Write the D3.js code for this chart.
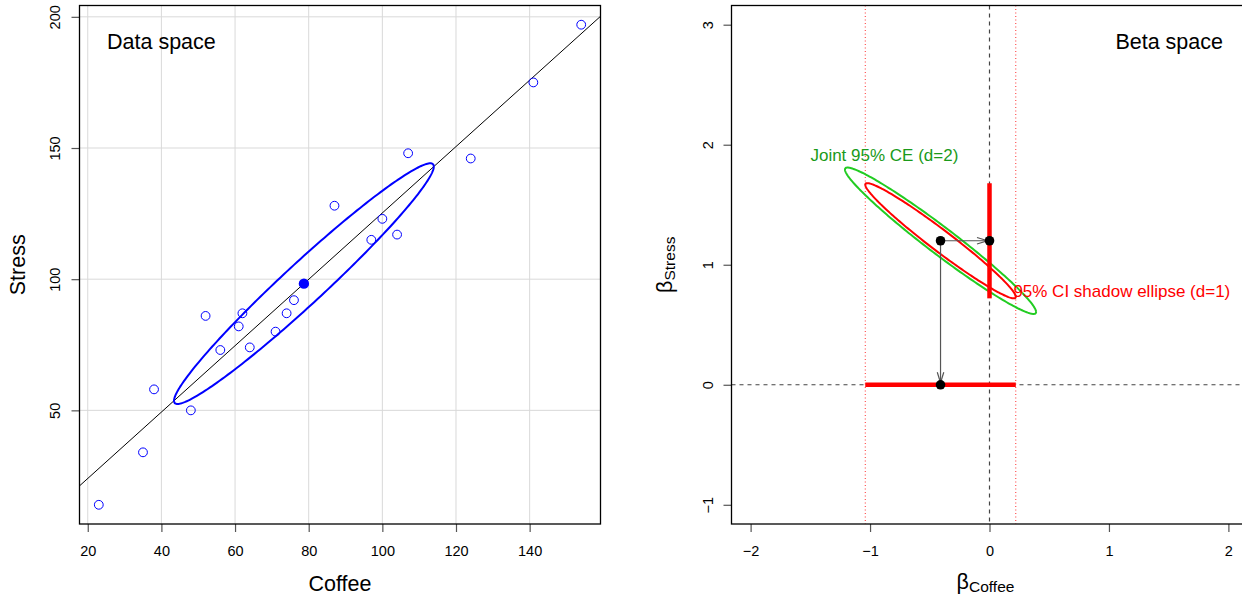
<!DOCTYPE html>
<html><head><meta charset="utf-8">
<script src="https://cdn.jsdelivr.net/npm/d3@7"></script>
<style>
body{margin:0;background:#fff}
svg{display:block;font-family:"Liberation Sans",Arial,Helvetica,sans-serif}
</style>
</head><body>
<svg id="c" width="1242" height="600"></svg>
<script>
// ---- data ----
const coffee = [154,141,124,107,87,100,97,104,76,74,62,52,61,71,64,56,38,48,35,23];
const stress = [197,175,146,148,128,123,115,117,92,87,87,86,82,80,74,73,58,50,34,14];
const dataXTicks = [20,40,60,80,100,120,140];
const dataYTicks = [50,100,150,200];

const betaNames = ["Coffee","Stress"];
const betaEst = [-0.41, 1.20];
const ciCoffee = [-1.04, 0.22];
const ciStress = [0.72, 1.68];
const jointScale = 1.27;          // joint (d=2) vs shadow (d=1) radius ratio
const betaXTicks = [-2,-1,0,1,2];
const betaYTicks = [-1,0,1,2,3];
const betaXLim = [-2,2];
const betaYLim = [-1,3];

// ---- derived statistics ----
const n = coffee.length;
const mx = d3.mean(coffee), my = d3.mean(stress);
const sx = d3.deviation(coffee), sy = d3.deviation(stress);
let sxy = 0;
for (let i = 0; i < n; i++) sxy += (coffee[i]-mx)*(stress[i]-my);
sxy /= (n-1);
const rXY = sxy/(sx*sy);
const slope = sxy/(sx*sx), intercept = my - slope*mx;

function pad(ext){ const d = (ext[1]-ext[0])*0.04; return [ext[0]-d, ext[1]+d]; }
function ellipsePts(cx, cy, ax, ay, rho, k){
  const pts = [], q = Math.sqrt(1-rho*rho);
  for (let i = 0; i <= 240; i++){
    const t = i/240*2*Math.PI;
    pts.push([cx + k*ax*Math.cos(t), cy + k*ay*(rho*Math.cos(t) + q*Math.sin(t))]);
  }
  return pts;
}

const svg = d3.select("#c");
const L = {x0:79.5, x1:600.5, y0:5.5, y1:524};
const R = {x0:731.5, x1:1247.5, y0:5.5, y1:524};
const TITLE = 21.5, TICK = 14.5, NOTE = 17;

const x1 = d3.scaleLinear().domain(pad(d3.extent(coffee))).range([L.x0, L.x1]);
const y1 = d3.scaleLinear().domain(pad(d3.extent(stress))).range([L.y1, L.y0]);
const xb = d3.scaleLinear().domain(pad(betaXLim)).range([R.x0, R.x1]);
const yb = d3.scaleLinear().domain(pad(betaYLim)).range([R.y1, R.y0]);

const defs = svg.append("defs");
defs.append("clipPath").attr("id","clipL").append("rect")
  .attr("x",L.x0).attr("y",L.y0).attr("width",L.x1-L.x0).attr("height",L.y1-L.y0);
defs.append("clipPath").attr("id","clipR").append("rect")
  .attr("x",R.x0).attr("y",R.y0).attr("width",R.x1-R.x0).attr("height",R.y1-R.y0);

// ================= LEFT PANEL: Data space =================
const gL = svg.append("g");
const pL = gL.append("g").attr("clip-path","url(#clipL)");
pL.selectAll("line.gx").data(dataXTicks).join("line")
  .attr("x1",d=>x1(d)).attr("x2",d=>x1(d)).attr("y1",L.y0).attr("y2",L.y1)
  .attr("stroke","#d9d9d9").attr("stroke-width",1);
pL.selectAll("line.gy").data(dataYTicks).join("line")
  .attr("y1",d=>y1(d)).attr("y2",d=>y1(d)).attr("x1",L.x0).attr("x2",L.x1)
  .attr("stroke","#d9d9d9").attr("stroke-width",1);
const xd = x1.domain();
pL.append("line")
  .attr("x1",x1(xd[0])).attr("y1",y1(intercept+slope*xd[0]))
  .attr("x2",x1(xd[1])).attr("y2",y1(intercept+slope*xd[1]))
  .attr("stroke","#000").attr("stroke-width",1);
const lineL = d3.line().x(d=>x1(d[0])).y(d=>y1(d[1]));
pL.append("path").attr("d", lineL(ellipsePts(mx,my,sx,sy,rXY,1)))
  .attr("fill","none").attr("stroke","#0000ff").attr("stroke-width",2);
pL.selectAll("circle.pt").data(coffee.map((c,i)=>[c,stress[i]])).join("circle")
  .attr("cx",d=>x1(d[0])).attr("cy",d=>y1(d[1])).attr("r",4.4)
  .attr("fill","none").attr("stroke","#0000ff").attr("stroke-width",1);
pL.append("circle").attr("cx",x1(mx)).attr("cy",y1(my)).attr("r",5.2).attr("fill","#0000ff");

const axBL = gL.append("g").attr("transform",`translate(0,${L.y1})`)
  .call(d3.axisBottom(x1).tickValues(dataXTicks).tickSize(8).tickFormat(d3.format("d")));
const axLL = gL.append("g").attr("transform",`translate(${L.x0},0)`)
  .call(d3.axisLeft(y1).tickValues(dataYTicks).tickSize(8).tickFormat(d3.format("d")));

gL.append("rect").attr("x",L.x0).attr("y",L.y0).attr("width",L.x1-L.x0).attr("height",L.y1-L.y0)
  .attr("fill","none").attr("stroke","#000").attr("stroke-width",1.3);

gL.append("text").attr("x",107).attr("y",49).attr("font-size",TITLE).text("Data space");
gL.append("text").attr("x",(L.x0+L.x1)/2).attr("y",591).attr("text-anchor","middle")
  .attr("font-size",TITLE).text("Coffee");
gL.append("text").attr("transform",`translate(25,${(L.y0+L.y1)/2}) rotate(-90)`)
  .attr("text-anchor","middle").attr("font-size",TITLE).text("Stress");

// ================= RIGHT PANEL: Beta space =================
const gR = svg.append("g");
const pR = gR.append("g").attr("clip-path","url(#clipR)");
pR.selectAll("line.ci").data(ciCoffee).join("line")
  .attr("x1",d=>xb(d)).attr("x2",d=>xb(d)).attr("y1",R.y0).attr("y2",R.y1)
  .attr("stroke","#ff3030").attr("stroke-width",1).attr("stroke-dasharray","1,2.5");
pR.append("line").attr("x1",xb(0)).attr("x2",xb(0)).attr("y1",R.y0).attr("y2",R.y1)
  .attr("stroke","#444").attr("stroke-width",1.2).attr("stroke-dasharray","4,4");
pR.append("line").attr("y1",yb(0)).attr("y2",yb(0)).attr("x1",R.x0).attr("x2",R.x1)
  .attr("stroke","#444").attr("stroke-width",1.2).attr("stroke-dasharray","4,4");

const axB = (ciCoffee[1]-ciCoffee[0])/2, ayB = (ciStress[1]-ciStress[0])/2;
const rhoB = -rXY;
const lineR = d3.line().x(d=>xb(d[0])).y(d=>yb(d[1]));
pR.append("path").attr("d", lineR(ellipsePts(betaEst[0],betaEst[1],axB,ayB,rhoB,jointScale)))
  .attr("fill","none").attr("stroke","#22cc22").attr("stroke-width",2);
pR.append("path").attr("d", lineR(ellipsePts(betaEst[0],betaEst[1],axB,ayB,rhoB,1)))
  .attr("fill","none").attr("stroke","#ff0000").attr("stroke-width",2);

pR.append("line").attr("x1",xb(ciCoffee[0])).attr("x2",xb(ciCoffee[1]))
  .attr("y1",yb(0)).attr("y2",yb(0)).attr("stroke","#ff0000").attr("stroke-width",4.5);
pR.append("line").attr("x1",xb(0)).attr("x2",xb(0))
  .attr("y1",yb(ciStress[0])).attr("y2",yb(ciStress[1])).attr("stroke","#ff0000").attr("stroke-width",4.5);

function arrow(xa,ya,xz,yz){
  const g = pR.append("g").attr("stroke","#555").attr("stroke-width",1.2).attr("fill","none");
  g.append("line").attr("x1",xa).attr("y1",ya).attr("x2",xz).attr("y2",yz);
  const ang = Math.atan2(yz-ya, xz-xa), len = 11, hw = 0.3;
  const p1 = [xz - len*Math.cos(ang-hw), yz - len*Math.sin(ang-hw)];
  const p2 = [xz - len*Math.cos(ang+hw), yz - len*Math.sin(ang+hw)];
  g.append("path").attr("d",`M${p1[0]},${p1[1]}L${xz},${yz}L${p2[0]},${p2[1]}`);
}
arrow(xb(betaEst[0]), yb(betaEst[1]), xb(0)-2, yb(betaEst[1]));
arrow(xb(betaEst[0]), yb(betaEst[1]), xb(betaEst[0]), yb(0)-2);

const dots = [[betaEst[0],betaEst[1]],[0,betaEst[1]],[betaEst[0],0]];
pR.selectAll("circle.d").data(dots).join("circle")
  .attr("cx",d=>xb(d[0])).attr("cy",d=>yb(d[1])).attr("r",4.8).attr("fill","#000");

pR.append("text").attr("x",xb(-0.88)).attr("y",yb(1.866)).attr("text-anchor","middle")
  .attr("font-size",NOTE).attr("fill","#1a9a1a").text("Joint 95% CE (d=2)");
pR.append("text").attr("x",xb(0.2)).attr("y",yb(0.73)).attr("text-anchor","start")
  .attr("font-size",NOTE).attr("fill","#ff0000").text("95% CI shadow ellipse (d=1)");

const axBR = gR.append("g").attr("transform",`translate(0,${R.y1})`)
  .call(d3.axisBottom(xb).tickValues(betaXTicks).tickSize(8).tickFormat(d3.format("d")));
const axLR = gR.append("g").attr("transform",`translate(${R.x0},0)`)
  .call(d3.axisLeft(yb).tickValues(betaYTicks).tickSize(8).tickFormat(d3.format("d")));

gR.append("rect").attr("x",R.x0).attr("y",R.y0).attr("width",R.x1-R.x0).attr("height",R.y1-R.y0)
  .attr("fill","none").attr("stroke","#000").attr("stroke-width",1.3);

gR.append("text").attr("x",1223).attr("y",49).attr("text-anchor","end").attr("font-size",TITLE).text("Beta space");

const tx = gR.append("text").attr("x",(R.x0+R.x1)/2 - 4).attr("y",589).attr("text-anchor","middle").attr("font-size",TITLE);
tx.append("tspan").text("β");
tx.append("tspan").attr("font-size",15.5).attr("dy",3).text(betaNames[0]);
const ty = gR.append("text").attr("transform",`translate(672,${(R.y0+R.y1)/2}) rotate(-90)`)
  .attr("text-anchor","middle").attr("font-size",TITLE);
ty.append("tspan").text("β");
ty.append("tspan").attr("font-size",15.5).attr("dy",3).text(betaNames[1]);

[axBL, axBR].forEach(a=>{
  a.select(".domain").remove();
  a.selectAll(".tick line").attr("stroke","#555").attr("stroke-width",1.2);
  a.selectAll(".tick text").attr("y",32).attr("dy",null).attr("font-size",TICK).attr("fill","#000");
});
[[axLL,-19.5],[axLR,-19]].forEach(([a,off])=>{
  a.select(".domain").remove();
  a.selectAll(".tick line").attr("stroke","#555").attr("stroke-width",1.2);
  a.selectAll(".tick text").attr("x",null).attr("dy",null).attr("text-anchor","middle")
    .attr("transform",`translate(${off},0) rotate(-90)`).attr("font-size",TICK).attr("fill","#000");
});
svg.selectAll("g").attr("font-family",null);
</script>
</body></html>
